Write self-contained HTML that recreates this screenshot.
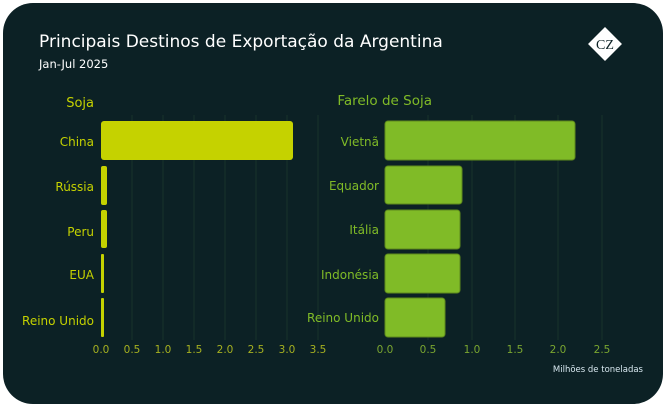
<!DOCTYPE html>
<html><head><meta charset="utf-8"><style>
body{margin:0;width:668px;height:411px;background:#fff;overflow:hidden;font-family:"Liberation Sans","DejaVu Sans",sans-serif}
</style></head><body>
<svg width="668" height="411" xmlns="http://www.w3.org/2000/svg" font-family="DejaVu Sans, Liberation Sans, sans-serif">
<rect x="3" y="3" width="660" height="401" rx="30" fill="#0c2125"/>
<text x="39" y="47" font-size="17" fill="#ffffff">Principais Destinos de Exportação da Argentina</text>
<text x="39" y="68" font-size="11.5" fill="#ffffff">Jan-Jul 2025</text>
<g transform="translate(605,44) rotate(45)"><rect x="-12" y="-12" width="24" height="24" fill="#fff"/></g>
<text x="605" y="49" font-size="14" font-family="Liberation Serif,serif" fill="#0c2125" text-anchor="middle">CZ</text>
<text x="94" y="107" font-size="13" fill="#c5d200" text-anchor="end">Soja</text>
<text x="432" y="105" font-size="13.5" fill="#80bb27" text-anchor="end">Farelo de Soja</text>
<g stroke="#18322a" stroke-width="1">
<line x1="132" y1="115" x2="132" y2="340"/><line x1="163" y1="115" x2="163" y2="340"/><line x1="194" y1="115" x2="194" y2="340"/><line x1="225" y1="115" x2="225" y2="340"/><line x1="256" y1="115" x2="256" y2="340"/><line x1="287" y1="115" x2="287" y2="340"/><line x1="318" y1="115" x2="318" y2="340"/>
<line x1="428" y1="115" x2="428" y2="340"/><line x1="472" y1="115" x2="472" y2="340"/><line x1="515" y1="115" x2="515" y2="340"/><line x1="558" y1="115" x2="558" y2="340"/><line x1="602" y1="115" x2="602" y2="340"/>
</g>
<g fill="#c5d200">
<rect x="101" y="121" width="192" height="39" rx="3"/>
<rect x="101" y="166" width="6" height="39" rx="2"/>
<rect x="101" y="210" width="6" height="38" rx="2"/>
<rect x="101" y="254" width="3" height="39" rx="1"/>
<rect x="101" y="298" width="3" height="39" rx="1"/>
</g>
<g fill="#c5d200" font-size="12" text-anchor="end">
<text x="94" y="146">China</text><text x="94" y="191">Rússia</text><text x="94" y="236">Peru</text><text x="94" y="279">EUA</text><text x="94" y="325">Reino Unido</text>
</g>
<g fill="#80bb27" stroke="#5e8a1c" stroke-width="1">
<rect x="385" y="121" width="190" height="39" rx="3"/>
<rect x="385" y="166" width="77" height="38" rx="3"/>
<rect x="385" y="210" width="75" height="39" rx="3"/>
<rect x="385" y="254" width="75" height="39" rx="3"/>
<rect x="385" y="298" width="60" height="39" rx="3"/>
</g>
<g fill="#80bb27" font-size="12" text-anchor="end">
<text x="379" y="146">Vietnã</text><text x="379" y="190">Equador</text><text x="379" y="234">Itália</text><text x="379" y="279">Indonésia</text><text x="379" y="322">Reino Unido</text>
</g>
<g fill="#a5b020" font-size="10.5" text-anchor="middle">
<text x="101" y="353">0.0</text><text x="132" y="353">0.5</text><text x="163" y="353">1.0</text><text x="194" y="353">1.5</text><text x="225" y="353">2.0</text><text x="256" y="353">2.5</text><text x="287" y="353">3.0</text><text x="318" y="353">3.5</text>
</g>
<g fill="#7aa630" font-size="10.5" text-anchor="middle">
<text x="385" y="353">0.0</text><text x="428" y="353">0.5</text><text x="472" y="353">1.0</text><text x="515" y="353">1.5</text><text x="558" y="353">2.0</text><text x="602" y="353">2.5</text>
</g>
<text x="643" y="372" font-size="8.5" fill="#d8e8f0" text-anchor="end">Milhões de toneladas</text>
</svg>
</body></html>
